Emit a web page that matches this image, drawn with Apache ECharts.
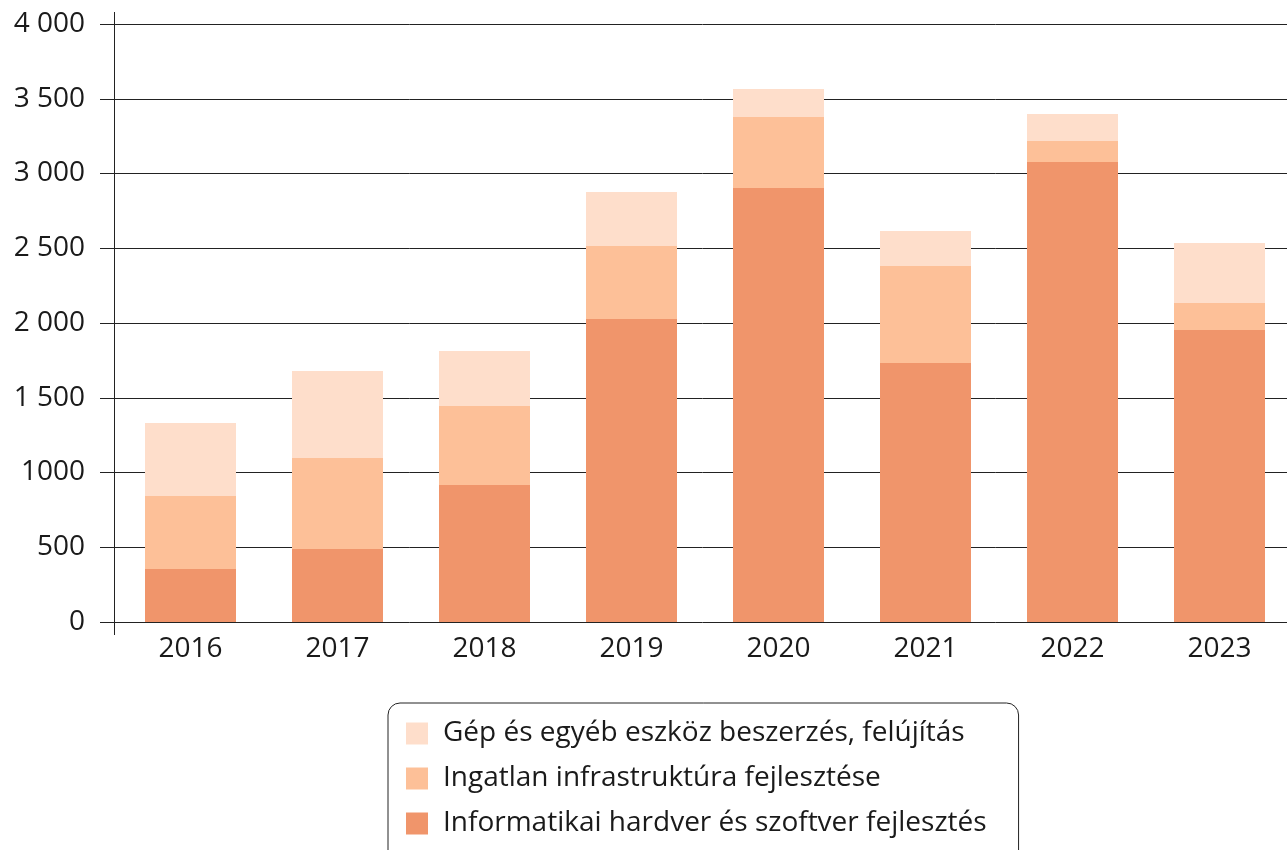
<!DOCTYPE html>
<html>
<head>
<meta charset="utf-8">
<script src="https://cdn.jsdelivr.net/npm/echarts@6/dist/echarts.min.js"></script>
<style>html,body{margin:0;padding:0;background:#fff}#c{width:1287px;height:850px}</style>
</head>
<body>
<div id="c"></div>
<script>
const categories = ['2016','2017','2018','2019','2020','2021','2022','2023'];
const informatikai = [355, 488, 916, 2027, 2903, 1732, 3077, 1953];
const ingatlan = [488, 609, 529, 488, 475, 649, 140, 181];
const gep = [488, 582, 368, 361, 187, 234, 181, 401];
const yTickLabels = {0:'0',500:'500',1000:'1000',1500:'1 500',2000:'2 000',2500:'2 500',3000:'3 000',3500:'3 500',4000:'4 000'};
const names = ['Informatikai hardver és szoftver fejlesztés','Ingatlan infrastruktúra fejlesztése','Gép és egyéb eszköz beszerzés, felújítás'];
const colors = ['#F0956B','#FDC098','#FEDECB'];
const font = '"Open Sans", "Noto Sans", sans-serif';

const chart = echarts.init(document.getElementById('c'));
chart.setOption({
  animation: false,
  textStyle: {fontFamily: font},
  grid: {left: 117, width: 1176, top: 24, height: 598, containLabel: false, outerBoundsMode: 'none'},
  xAxis: {
    type: 'category', data: categories,
    axisLine: {show: false}, axisTick: {show: false},
    axisLabel: {fontSize: 28, color: '#1a1a1a', margin: 13, fontFamily: font}
  },
  yAxis: {
    type: 'value', min: 0, max: 4000, interval: 500,
    axisLine: {show: false},
    axisTick: {show: true, length: 17, lineStyle: {color: '#222', width: 1}},
    splitLine: {lineStyle: {color: '#222', width: 1}},
    axisLabel: {fontSize: 28, color: '#1a1a1a', margin: 32, fontFamily: font,
      formatter: v => yTickLabels[v] !== undefined ? yTickLabels[v] : String(v)}
  },
  legend: {
    orient: 'vertical', left: 388, top: 703, height: 200,
    data: [names[2], names[1], names[0]],
    itemWidth: 22, itemHeight: 22, itemGap: 14,
    icon: 'rect',
    padding: [15, 32, 40, 18],
    borderColor: '#222', borderWidth: 1, borderRadius: 12,
    textStyle: {fontSize: 28, color: '#1a1a1a', fontFamily: font, lineHeight: 31, padding: [0,0,0,10]}
  },
  graphic: [{type: 'line', shape: {x1: 114.5, y1: 12, x2: 114.5, y2: 635}, style: {stroke: '#222', lineWidth: 1}, z: 10}],
  series: [
    {name: names[0], type: 'bar', stack: 's', data: informatikai, barWidth: 91, itemStyle: {color: colors[0]}},
    {name: names[1], type: 'bar', stack: 's', data: ingatlan, barWidth: 91, itemStyle: {color: colors[1]}},
    {name: names[2], type: 'bar', stack: 's', data: gep, barWidth: 91, itemStyle: {color: colors[2]}}
  ]
});
</script>
</body>
</html>
